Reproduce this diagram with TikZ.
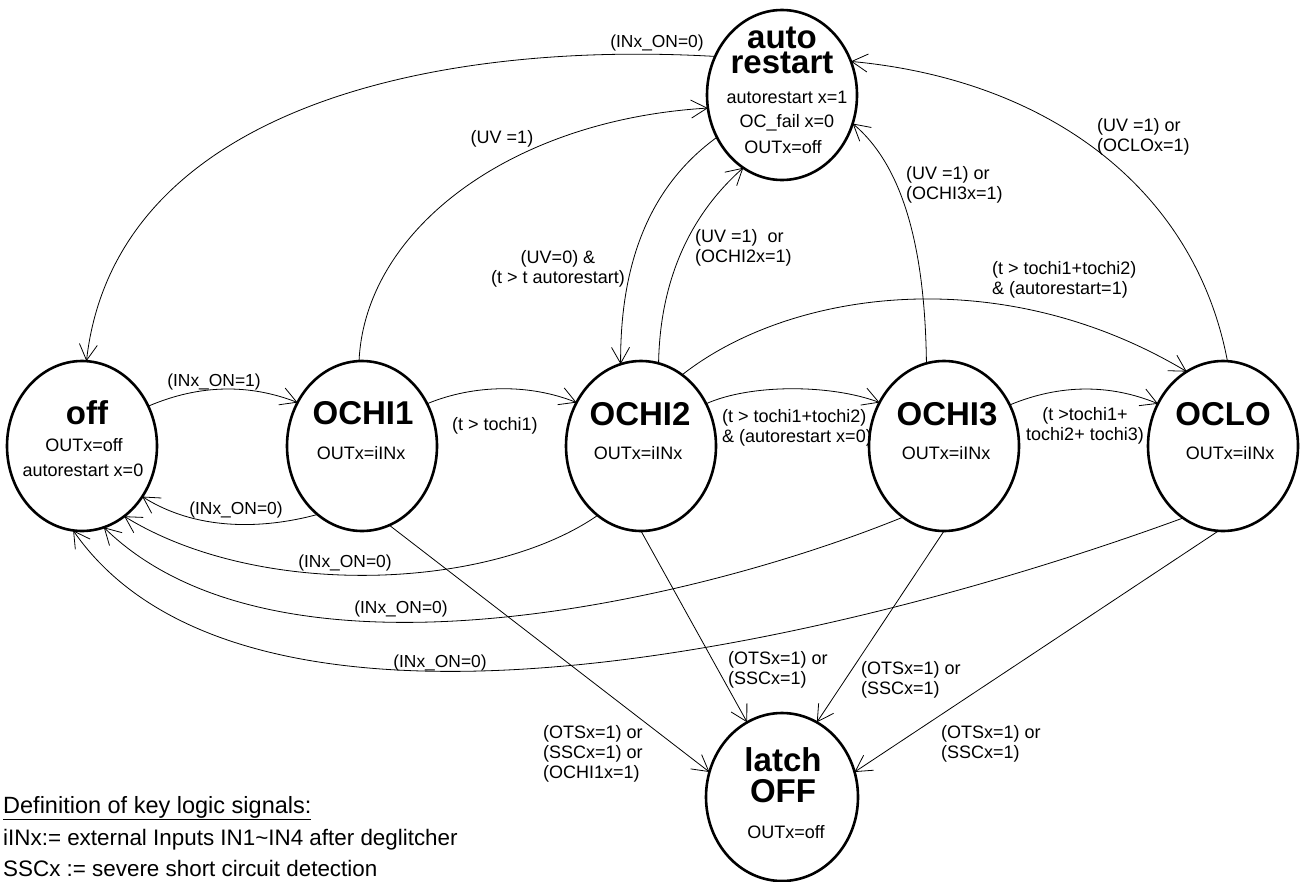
\documentclass[tikz,border=0pt]{standalone}
\usepackage{fontspec}
\setmainfont{Liberation Sans}
\usetikzlibrary{arrows.meta,shapes.geometric}
\tikzset{
  state/.style={draw=black,ellipse,minimum width=150pt,minimum height=170pt,inner sep=0pt,outer sep=0pt,line width=2.6pt},
  title/.style={inner sep=0pt,font=\bfseries\fontsize{33}{25}\selectfont,align=center,text=black},
  inner/.style={inner sep=0pt,font=\fontsize{18}{20}\selectfont,text=black},
  lbl/.style={inner sep=0pt,anchor=west,align=left,font=\fontsize{18}{20}\selectfont,text=black},
  lblc/.style={inner sep=0pt,align=center,font=\fontsize{18}{20}\selectfont,text=black},
  onlbl/.style={inner sep=0pt,font=\fontsize{17.4}{20}\selectfont,text=black},
  key/.style={inner sep=0pt,anchor=west,font=\fontsize{22.4}{24}\selectfont,text=black},
  edge/.style={draw=black,line width=0.8pt,-{Straight Barb[length=16pt,width=18pt,line width=0.8pt]}}
}
\begin{document}
\begin{tikzpicture}[x=1pt,y=-1pt]
\useasboundingbox (0,0) rectangle (1303,881);
% states
\node[state] (restart) at (782,95) {};
\node[state] (off) at (82,446) {};
\node[state] (ochi1) at (362,446) {};
\node[state] (ochi2) at (641,446) {};
\node[state] (ochi3) at (944,446) {};
\node[state] (oclo) at (1223,446) {};
\node[state,minimum width=152pt,minimum height=168pt] (latch) at (782,797) {};
% titles
\node[title] (t1) at (782,50) {auto\\restart};
\node[inner] (t1a) at (787,97) {autorestart x=1};
\node[inner] (t1b) at (787,123) {OC\_fail x=0};
\node[inner] (t1c) at (783,147) {OUTx=off};
\node[title] (t2) at (87,413) {off};
\node[inner] (t2a) at (84,445) {OUTx=off};
\node[inner] (t2b) at (83,470) {autorestart x=0};
\node[title] (t3) at (363,413) {OCHI1};
\node[inner] (t3a) at (361,453) {OUTx=iINx};
\node[title] (t4) at (640,414) {OCHI2};
\node[inner] (t4a) at (638,453) {OUTx=iINx};
\node[title] (t5) at (947,414) {OCHI3};
\node[inner] (t5a) at (946,453) {OUTx=iINx};
\node[title] (t6) at (1223,414) {OCLO};
\node[inner] (t6a) at (1230,453) {OUTx=iINx};
\node[title,font=\bfseries\fontsize{33}{31}\selectfont] (t7) at (783,775) {latch\\OFF};
\node[inner] (t7a) at (786,832) {OUTx=off};
% connectors
\draw[edge] (restart.150) .. controls (430,40) and (115,110) .. (off.87);
\draw[edge] (ochi1.92.6) .. controls (365,230) and (510,120) .. (restart.190);
\draw[edge] (restart.213) .. controls (665,175) and (620,240) .. (ochi2.104);
\draw[edge] (ochi2.78) .. controls (660,280) and (690,215) .. (restart.242.5);
\draw[edge] (ochi3.102) .. controls (925,245) and (902,165) .. (restart.338);
\draw[edge] (oclo.87) .. controls (1195,190) and (1050,80) .. (restart.26.6);
\draw[edge] (off.31.6) .. controls (200,384) and (250,384) .. (ochi1.146);
\draw[edge] (ochi1.33) .. controls (475,384) and (530,384) .. (ochi2.146);
\draw[edge] (ochi2.33.5) .. controls (750,384) and (830,384) .. (ochi3.146);
\draw[edge] (ochi3.32) .. controls (1060,384) and (1110,384) .. (oclo.147);
\draw[edge] (ochi2.60.7) .. controls (790,290) and (1000,260) .. (oclo.116);
\draw[edge] (ochi1.237.6) .. controls (260,530) and (195,530) .. (off.-40.4);
\draw[edge] (ochi2.238.6) .. controls (490,590) and (260,600) .. (off.-59.4);
\draw[edge] (ochi3.240) .. controls (700,600) and (280,700) .. (off.-75.6);
\draw[edge] (oclo.241.5) .. controls (850,640) and (250,785) .. (off.-96.6);
\draw[edge] (ochi1.-71) -- (latch.161);
\draw[edge] (ochi2.270) -- (latch.115);
\draw[edge] (ochi3.270) -- (latch.65);
\draw[edge] (oclo.267) -- (latch.19);
% labels
\node[onlbl] (l1) at (657,43) {(INx\_ON=0)};
\node[lblc] (l2) at (502,139) {(UV =1)};
\node[lblc] (l3) at (558,269) {(UV=0) \&\\(t > t autorestart)};
\node[lbl] (l4) at (695,248) {(UV =1)~ or\\(OCHI2x=1)};
\node[lbl] (l5) at (906,185) {(UV =1) or\\(OCHI3x=1)};
\node[lbl] (l6) at (1097,137) {(UV =1) or\\(OCLOx=1)};
\node[lbl] (l7) at (992,280) {(t > tochi1+tochi2)\\\& (autorestart=1)};
\node[onlbl] (l8) at (214,382) {(INx\_ON=1)};
\node[lbl] (l9) at (452,426) {(t > tochi1)};
\node[lbl] (l10) at (722,428) {(t > tochi1+tochi2)\\\& (autorestart x=0)};
\node[lblc] (l11) at (1085,426) {(t >tochi1+\\tochi2+ tochi3)};
\node[onlbl] (l12) at (236,510) {(INx\_ON=0)};
\node[onlbl] (l13) at (345,563) {(INx\_ON=0)};
\node[onlbl] (l14) at (401,609) {(INx\_ON=0)};
\node[onlbl] (l15) at (440,663) {(INx\_ON=0)};
\node[lbl] (l16) at (728,670) {(OTSx=1) or\\(SSCx=1)};
\node[lbl] (l17) at (861,680) {(OTSx=1) or\\(SSCx=1)};
\node[lbl] (l18) at (941,744) {(OTSx=1) or\\(SSCx=1)};
\node[lbl] (l19) at (543,754) {(OTSx=1) or\\(SSCx=1) or\\(OCHI1x=1)};
% key
\node[key,font=\fontsize{23.5}{26}\selectfont] (k1) at (3,808) {\underline{Definition of key logic signals:}};
\node[key] (k2) at (3,840) {iINx:= external Inputs IN1\textasciitilde IN4 after deglitcher};
\node[key] (k3) at (3,868) {SSCx := severe short circuit detection};
\end{tikzpicture}
\end{document}
